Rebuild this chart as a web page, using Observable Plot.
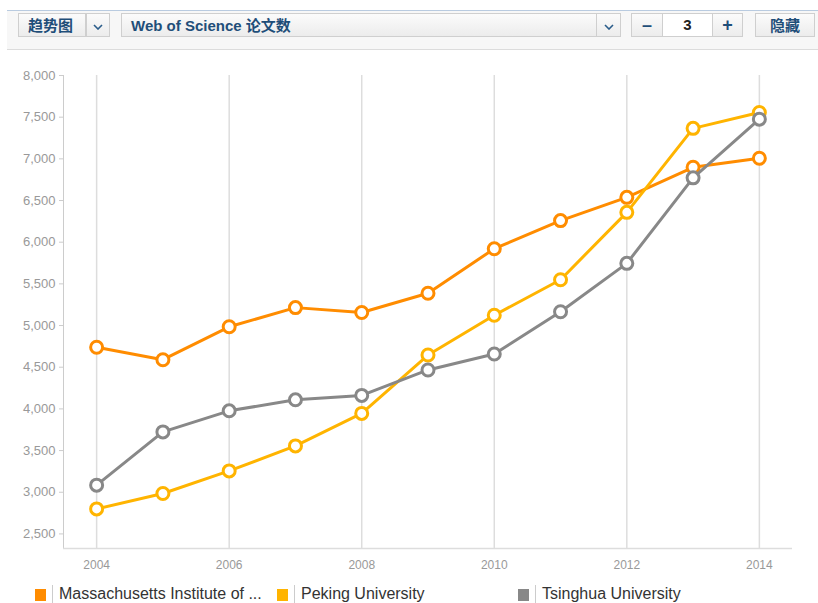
<!DOCTYPE html>
<html>
<head>
<meta charset="utf-8">
<script src="https://cdn.jsdelivr.net/npm/d3@7"></script>
<script src="https://cdn.jsdelivr.net/npm/@observablehq/plot@0.6"></script>
<style>
  html, body { margin: 0; padding: 0; background: #fff; }
  body { width: 818px; height: 603px; position: relative; overflow: hidden; font-family: "Liberation Sans", Arial, sans-serif; }
  .toolbar { position: absolute; left: 7px; top: 10px; width: 811px; height: 38px; background: #f7f7f7; border-top: 1px solid #b9cbe0; border-bottom: 1px solid #dcdcdc; }
  .ctl { position: absolute; box-sizing: border-box; border: 1px solid #cfcfcf; background: linear-gradient(#fbfbfb, #ececec); color: #1f4e79; font-weight: bold; font-size: 14px; line-height: 22px; height: 24px; top: 2px; }
  .cjk { font-family: "Noto Sans CJK SC", sans-serif; font-size: 15px; }
  .arrow { color: #2a5c8a; text-align: center; }
  .arrow svg { margin-top: 8px; }
  #chart { position: absolute; left: 0; top: 55px; }
  .legend { position: absolute; top: 585px; left: 0; width: 818px; height: 18px; font-size: 16px; color: #333; }
  .legend .sw { position: absolute; top: 4px; width: 11px; height: 12px; }
  .legend .sep { position: absolute; top: 0; width: 1px; height: 19px; background: #ccc; }
  .legend .lab { position: absolute; top: 0; white-space: nowrap; line-height: 18px; }
</style>
</head>
<body>
<div class="toolbar">
  <div class="ctl cjk" style="left:11px;width:68px;padding-left:9px;">趋势图</div>
  <div class="ctl arrow" style="left:79px;width:24px;"><svg width="10" height="6"><path d="M1 1 L5 5 L9 1" fill="none" stroke="#2a5c8a" stroke-width="1.6"/></svg></div>
  <div class="ctl" style="left:114px;width:500px;padding-left:9px;font-size:15px;">Web of Science <span class="cjk">论文数</span></div>
  <div class="ctl arrow" style="left:589px;width:25px;"><svg width="10" height="6"><path d="M1 1 L5 5 L9 1" fill="none" stroke="#2a5c8a" stroke-width="1.6"/></svg></div>
  <div class="ctl" style="left:624px;width:32px;text-align:center;font-size:18px;">&#8211;</div>
  <div class="ctl" style="left:655px;width:51px;background:#fff;text-align:center;color:#222;font-size:15px;">3</div>
  <div class="ctl" style="left:705px;width:31px;text-align:center;font-size:18px;">+</div>
  <div class="ctl cjk" style="left:748px;width:60px;text-align:center;">隐藏</div>
</div>
<div id="chart"></div>
<div class="legend" id="legend"></div>
<script>
const years = [2004, 2005, 2006, 2007, 2008, 2009, 2010, 2011, 2012, 2013, 2014];
const seriesNames = ["Massachusetts Institute of Technology", "Peking University", "Tsinghua University"];
const legendLabels = ["Massachusetts Institute of ...", "Peking University", "Tsinghua University"];
const colors = ["#ff8c00", "#ffb400", "#888888"];
const mitValues = [4740, 4590, 4985, 5215, 5157, 5388, 5922, 6259, 6538, 6899, 7007];
const pekingValues = [2800, 2985, 3256, 3556, 3946, 4646, 5124, 5550, 6358, 7366, 7556];
const tsinghuaValues = [3085, 3724, 3977, 4109, 4162, 4467, 4659, 5166, 5746, 6772, 7476];
const xTicks = [2004, 2006, 2008, 2010, 2012, 2014];
const yTicks = [2500, 3000, 3500, 4000, 4500, 5000, 5500, 6000, 6500, 7000, 7500, 8000];

const allValues = [mitValues, pekingValues, tsinghuaValues];
const data = [];
seriesNames.forEach((s, i) => years.forEach((yr, j) => data.push({series: s, year: yr, value: allValues[i][j]})));

const marks = [
  Plot.ruleX(xTicks, {stroke: "#dddddd", strokeWidth: 1.5}),
  Plot.ruleX([2003.5], {stroke: "#cccccc", strokeWidth: 1}),
  Plot.ruleY([2325], {stroke: "#dddddd", strokeWidth: 1.5}),
  Plot.axisY({ticks: yTicks, tickFormat: d3.format(","), tickSize: 4, tickPadding: 4, stroke: "#cccccc", color: "#999", fontSize: 13}),
  Plot.axisX({ticks: xTicks, tickFormat: d => String(d), tickSize: 0, tickPadding: 12, color: "#999", fontSize: 12})
];
seriesNames.forEach(s => {
  const sub = data.filter(d => d.series === s);
  marks.push(Plot.line(sub, {x: "year", y: "value", stroke: "series", strokeWidth: 3}));
  marks.push(Plot.dot(sub, {x: "year", y: "value", stroke: "series", fill: "white", r: 6, strokeWidth: 3}));
});

const chart = Plot.plot({
  width: 818,
  height: 525,
  marginLeft: 63,
  marginRight: 26,
  marginTop: 20,
  marginBottom: 32,
  style: {fontFamily: "'Liberation Sans', Arial, sans-serif", background: "transparent"},
  x: {domain: [2003.5, 2014.5], label: null},
  y: {domain: [2325, 8000], label: null},
  color: {domain: seriesNames, range: colors},
  marks
});
document.getElementById("chart").appendChild(chart);

const legendPos = [35, 277, 518];
const legend = document.getElementById("legend");
legendLabels.forEach((lab, i) => {
  const x = legendPos[i];
  legend.insertAdjacentHTML("beforeend",
    `<div class="sw" style="left:${x}px;background:${colors[i]}"></div>` +
    `<div class="sep" style="left:${x + 17}px"></div>` +
    `<div class="lab" style="left:${x + 24}px">${lab}</div>`);
});
</script>
</body>
</html>
